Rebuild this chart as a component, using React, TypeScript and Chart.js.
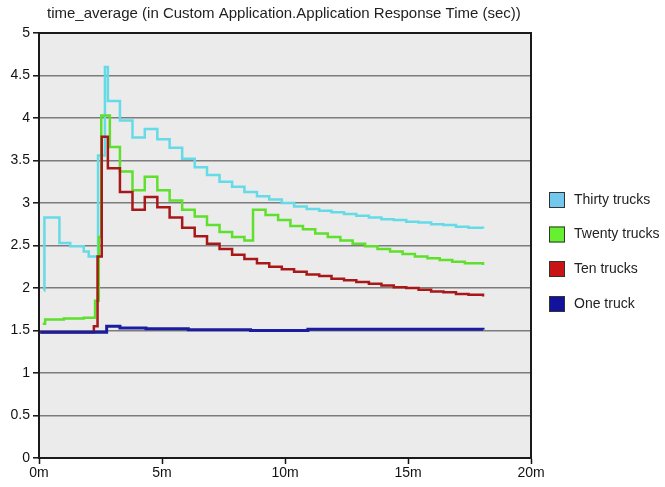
import React, { useEffect, useRef } from 'react';
import { Chart, registerables } from 'chart.js';

Chart.register(...registerables);

const chartTitle = 'time_average (in Custom Application.Application Response Time (sec))';
const seriesNames = ['Thirty trucks', 'Twenty trucks', 'Ten trucks', 'One truck'];
const lineColors = ['#64dbe7', '#5ee02c', '#a81818', '#1c1ca0'];
const legendColors = ['#72c8ec', '#66f030', '#c81414', '#12129c'];
const xTickValues = [0, 5, 10, 15, 20];
const yTickValues = [0, 0.5, 1, 1.5, 2, 2.5, 3, 3.5, 4, 4.5, 5];

// Each series: level start times (minutes) and levels (sec)
const thirtyT = [0.2, 0.22, 0.83, 1.27, 1.82, 2.02, 2.4, 2.68, 2.8, 3.29, 3.8, 4.3, 4.81, 5.31, 5.82, 6.33, 6.83, 7.34, 7.85, 8.35, 8.86, 9.36, 9.87, 10.37, 10.88, 11.39, 11.89, 12.4, 12.9, 13.41, 13.92, 14.42, 14.93, 15.43, 15.94, 16.44, 16.95, 17.46, 18.05];
const thirtyV = [1.97, 2.83, 2.53, 2.49, 2.43, 2.37, 3.56, 4.6, 4.2, 3.97, 3.77, 3.87, 3.75, 3.65, 3.52, 3.42, 3.33, 3.25, 3.19, 3.13, 3.08, 3.04, 3.0, 2.96, 2.93, 2.91, 2.89, 2.87, 2.85, 2.83, 2.81, 2.8, 2.78, 2.77, 2.75, 2.74, 2.72, 2.71, 2.7];

const twentyT = [0.15, 0.25, 1.01, 1.82, 2.28, 2.43, 2.53, 2.88, 3.29, 3.8, 4.3, 4.81, 5.31, 5.82, 6.33, 6.83, 7.34, 7.85, 8.35, 8.7, 9.21, 9.72, 10.22, 10.73, 11.23, 11.74, 12.25, 12.75, 13.26, 13.76, 14.27, 14.78, 15.28, 15.79, 16.29, 16.8, 17.31, 18.05];
const twentyV = [1.58, 1.63, 1.64, 1.65, 1.85, 2.6, 4.03, 3.66, 3.37, 3.15, 3.31, 3.15, 3.03, 2.92, 2.84, 2.74, 2.66, 2.6, 2.56, 2.92, 2.86, 2.8, 2.73, 2.69, 2.64, 2.6, 2.56, 2.52, 2.49, 2.46, 2.43, 2.4, 2.37, 2.35, 2.33, 2.31, 2.29, 2.27];

const tenT = [0.05, 2.23, 2.38, 2.55, 2.8, 3.29, 3.8, 4.3, 4.81, 5.31, 5.82, 6.33, 6.83, 7.34, 7.85, 8.35, 8.86, 9.36, 9.87, 10.37, 10.88, 11.39, 11.89, 12.4, 12.9, 13.41, 13.92, 14.42, 14.93, 15.43, 15.94, 16.44, 16.95, 17.46, 18.05];
const tenV = [1.48, 1.55, 2.37, 3.78, 3.41, 3.13, 2.92, 3.07, 2.95, 2.83, 2.71, 2.61, 2.52, 2.46, 2.39, 2.34, 2.29, 2.25, 2.22, 2.19, 2.16, 2.14, 2.11, 2.09, 2.07, 2.05, 2.03, 2.01, 2.0, 1.98, 1.96, 1.95, 1.93, 1.92, 1.9];

const oneT = [0.05, 2.75, 3.29, 4.35, 6.07, 8.6, 10.93, 18.05];
const oneV = [1.48, 1.55, 1.53, 1.52, 1.51, 1.5, 1.515, 1.51];

const seriesT = [thirtyT, twentyT, tenT, oneT];
const seriesV = [thirtyV, twentyV, tenV, oneV];

const FONT = '"Liberation Sans", Arial, sans-serif';

const decor = {
  id: 'decor',
  beforeDraw(chart: any) {
    const { ctx, chartArea: a } = chart;
    ctx.save();
    ctx.fillStyle = '#ebebeb';
    ctx.fillRect(a.left, a.top, a.right - a.left, a.bottom - a.top);
    ctx.restore();
  },
  afterDraw(chart: any) {
    const { ctx, chartArea: a } = chart;
    ctx.save();
    ctx.strokeStyle = '#1a1a1a';
    ctx.lineWidth = 2;
    ctx.strokeRect(a.left, a.top, a.right - a.left, a.bottom - a.top);
    ctx.fillStyle = '#222';
    ctx.font = '15px ' + FONT;
    ctx.textBaseline = 'middle';
    ctx.textAlign = 'left';
    ctx.fillText(chartTitle, 47, 14);
    const ys = [200, 234.5, 269, 304];
    seriesNames.forEach((name, i) => {
      const y = ys[i];
      ctx.fillStyle = legendColors[i];
      ctx.fillRect(549, y - 8, 16, 16);
      ctx.strokeStyle = '#333';
      ctx.lineWidth = 1;
      ctx.strokeRect(549.5, y - 7.5, 15, 15);
      ctx.fillStyle = '#222';
      ctx.font = '14px ' + FONT;
      ctx.fillText(name, 574, y);
    });
    ctx.restore();
  },
};

export default function App() {
  const ref = useRef<HTMLCanvasElement>(null);
  useEffect(() => {
    const canvas = ref.current;
    if (!canvas) return;
    const datasets = seriesNames.map((name, i) => ({
      label: name,
      data: seriesT[i].map((t, j) => ({ x: t, y: seriesV[i][j] })),
      borderColor: lineColors[i],
      backgroundColor: lineColors[i],
      borderWidth: i === 3 ? 3 : 2.5,
      pointRadius: 0,
      fill: false,
      stepped: 'before' as const,
      tension: 0,
    }));
    const chart = new Chart(canvas, {
      type: 'line',
      data: { datasets: [...datasets].reverse() },
      options: {
        animation: false,
        responsive: false,
        events: [],
        layout: { padding: { top: 33, right: 134, left: 0, bottom: 0 } },
        plugins: { legend: { display: false }, title: { display: false }, tooltip: { enabled: false } },
        scales: {
          x: {
            type: 'linear',
            min: 0,
            max: 20,
            afterBuildTicks: (s: any) => { s.ticks = xTickValues.map((v) => ({ value: v })); },
            ticks: { callback: (v: any) => v + 'm', font: { size: 14, family: FONT }, color: '#111', padding: 1, maxRotation: 0 },
            grid: { drawOnChartArea: false, drawTicks: true, tickLength: 6, tickColor: '#111', tickWidth: 1.5 },
            border: { color: '#111', width: 2 },
            afterFit: (s: any) => { s.height = 29; },
          },
          y: {
            min: 0,
            max: 5,
            afterBuildTicks: (s: any) => { s.ticks = yTickValues.map((v) => ({ value: v })); },
            ticks: { callback: (v: any) => String(v), font: { size: 14, family: FONT }, color: '#111', padding: 3 },
            grid: { color: '#7c7c7c', lineWidth: 1.6, drawTicks: true, tickLength: 6, tickColor: '#111', tickWidth: 1.5 },
            border: { color: '#111', width: 2 },
            afterFit: (s: any) => { s.width = 39; },
          },
        },
      },
      plugins: [decor],
    });
    return () => chart.destroy();
  }, []);
  return (
    <div style={{ position: 'fixed', left: 0, top: 0, width: 665, height: 487, background: '#fff' }}>
      <canvas ref={ref} width={665} height={487} style={{ width: 665, height: 487 }} />
    </div>
  );
}
